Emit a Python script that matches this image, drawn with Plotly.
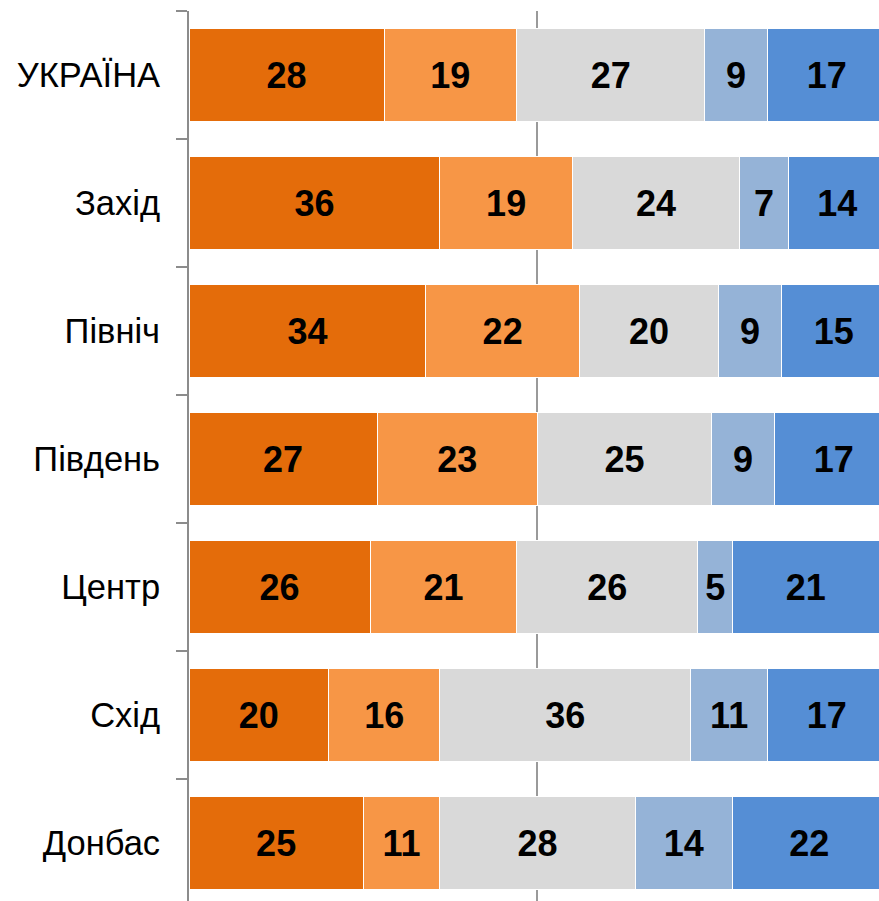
import plotly.graph_objects as go

categories = ["УКРАЇНА", "Захід", "Північ", "Південь", "Центр", "Схід", "Донбас"]
s1 = [28, 36, 34, 27, 26, 20, 25]
s2 = [19, 19, 22, 23, 21, 16, 11]
s3 = [27, 24, 20, 25, 26, 36, 28]
s4 = [9, 7, 9, 9, 5, 11, 14]
s5 = [17, 14, 15, 17, 21, 17, 22]
series = [s1, s2, s3, s4, s5]
colors = ["#E46C0A", "#F79646", "#D9D9D9", "#95B3D7", "#558ED5"]

fig = go.Figure()
for vals, col in zip(series, colors):
    fig.add_trace(go.Bar(
        y=categories, x=vals, orientation="h",
        marker=dict(color=col, line=dict(color="white", width=1)),
        text=[str(v) for v in vals], textposition="inside",
        insidetextanchor="middle", textangle=0,
        textfont=dict(family="Liberation Sans, Arial", size=36, color="black", weight="bold"),
        showlegend=False, hoverinfo="skip",
    ))

W, H = 879, 901
top = 11
plot_h = H - top
fig.update_layout(
    width=W, height=H, barmode="stack", bargap=0.28,
    margin=dict(l=189, r=0, t=top, b=0),
    plot_bgcolor="white", paper_bgcolor="white",
    uniformtext=dict(minsize=36, mode="show"),
    xaxis=dict(range=[0, 99], tickvals=[50], showticklabels=False,
               showgrid=True, gridcolor="#9a9a9a", gridwidth=1.5,
               zeroline=False, showline=False, ticks=""),
    yaxis=dict(type="category", categoryorder="array", categoryarray=categories,
               range=[-0.5 + plot_h / 128, -0.5],
               showline=True, linecolor="#8c8c8c", linewidth=2,
               ticks="outside", tickson="boundaries", ticklen=11,
               tickcolor="#8c8c8c", tickwidth=2, ticklabelstandoff=20,
               tickfont=dict(family="Liberation Sans, Arial", size=34.5, color="black"),
               showgrid=False, zeroline=False),
)
fig.write_html(
    "out.html",
    config={"displayModeBar": False},
    post_script="document.body.style.margin='0';document.body.style.overflow='hidden';",
)
